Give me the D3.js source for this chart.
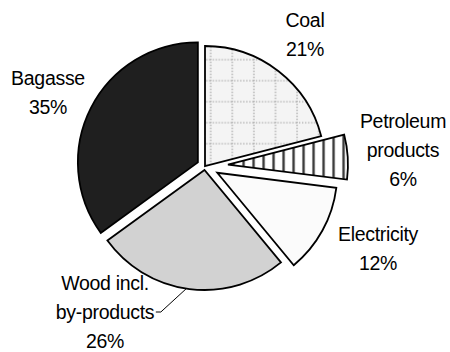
<!DOCTYPE html>
<html>
<head>
<meta charset="utf-8">
<script src="https://cdn.jsdelivr.net/npm/d3@7"></script>
<style>
  html, body { margin: 0; padding: 0; background: #fff; }
  svg text { font-family: "Liberation Sans", Arial, sans-serif; font-size: 19.5px; letter-spacing: -0.3px; fill: #000; }
</style>
</head>
<body>
<svg id="chart" width="450" height="352"></svg>
<script>
// ---- data ----
const categories = ["Coal", "Petroleum products", "Electricity", "Wood incl. by-products", "Bagasse"];
const values = [21, 6, 12, 26, 35];
const labelLines = [["Coal", "21%"], ["Petroleum", "products", "6%"], ["Electricity", "12%"], ["Wood incl.", "by-products", "26%"], ["Bagasse", "35%"]];

// ---- layout / style ----
const W = 450, H = 352;
const cx = 205, cy = 166, R = 120;
const explode = [0, 23, 14, 4, 8];
const fills = ["url(#coalPat)", "url(#petPat)", "#fbfbfb", "#d2d2d2", "#1f1f1f"];
// label anchor (centre x, first baseline y)
const labelPos = [[305, 27], [403, 128], [378, 241], [105, 290], [48, 85]];
const lineH = 29;

const svg = d3.select("#chart");
const defs = svg.append("defs");

// Coal: light grey with dotted grid
const cp = defs.append("pattern").attr("id", "coalPat").attr("patternUnits", "userSpaceOnUse")
  .attr("width", 21.6).attr("height", 21).attr("x", 4.7).attr("y", 18.7);
cp.append("rect").attr("width", 21.6).attr("height", 21).attr("fill", "#f4f4f4");
cp.append("line").attr("x1", 1).attr("x2", 1).attr("y1", 0).attr("y2", 21)
  .attr("stroke", "#b0b0b0").attr("stroke-width", 1.6).attr("stroke-dasharray", "1.2 1.8");
cp.append("line").attr("x1", 0).attr("x2", 21.6).attr("y1", 1).attr("y2", 1)
  .attr("stroke", "#b0b0b0").attr("stroke-width", 1.6).attr("stroke-dasharray", "1.2 1.8");

// Petroleum: vertical stripes
const pp = defs.append("pattern").attr("id", "petPat").attr("patternUnits", "userSpaceOnUse")
  .attr("width", 10).attr("height", 10).attr("x", 4).attr("y", 0);
pp.append("rect").attr("width", 10).attr("height", 10).attr("fill", "#fff");
pp.append("rect").attr("x", 0).attr("width", 3.2).attr("height", 10).attr("fill", "#9a9a9a");
pp.append("rect").attr("x", 0.8).attr("width", 1.6).attr("height", 10).attr("fill", "#3a3a3a");

const pie = d3.pie().sort(null).startAngle(0).endAngle(2 * Math.PI);
const arcs = pie(values);
const arc = d3.arc().innerRadius(0).outerRadius(R);

function offset(d, i) {
  const m = (d.startAngle + d.endAngle) / 2;
  return [explode[i] * Math.sin(m), -explode[i] * Math.cos(m)];
}

const g = svg.append("g").attr("transform", `translate(${cx},${cy})`);
g.selectAll("path.slice").data(arcs).join("path")
  .attr("class", "slice")
  .attr("d", arc)
  .attr("transform", (d, i) => { const o = offset(d, i); return `translate(${o[0]},${o[1]})`; })
  .attr("fill", (d, i) => fills[i])
  .attr("stroke", "#000")
  .attr("stroke-width", 1.8)
  .attr("stroke-linejoin", "miter");

// labels
const lg = svg.append("g");
labelLines.forEach((lines, i) => {
  const t = lg.append("text").attr("text-anchor", "middle");
  lines.forEach((s, j) => {
    t.append("tspan").attr("x", labelPos[i][0]).attr("y", labelPos[i][1] + j * lineH).text(s);
  });
});

// leader line for Wood label
(function () {
  const i = 3, d = arcs[i];
  const o = offset(d, i);
  const a = (d.startAngle + d.endAngle) / 2 + 0.026;
  const px = cx + o[0] + R * Math.sin(a), py = cy + o[1] - R * Math.cos(a);
  const tNode = lg.selectAll("text").nodes()[i].childNodes[1];
  const bb = tNode.getBBox();
  const sx = bb.x + bb.width + 1, sy = labelPos[i][1] + lineH - 7;
  svg.append("polyline")
    .attr("points", [[sx, sy], [sx + 5, sy], [px, py]].map(p => p.join(",")).join(" "))
    .attr("fill", "none").attr("stroke", "#000").attr("stroke-width", 1);
})();
</script>
</body>
</html>
